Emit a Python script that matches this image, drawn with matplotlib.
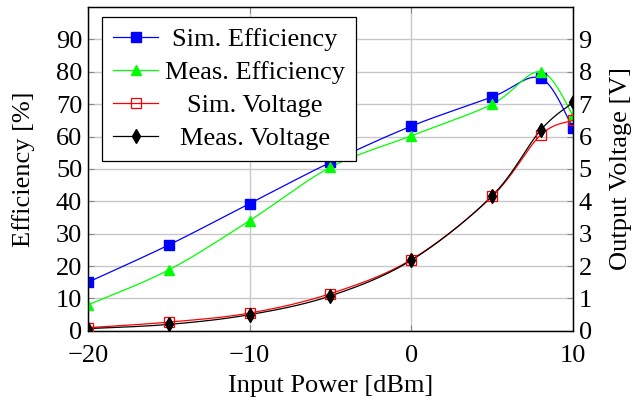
import numpy as np
import matplotlib
matplotlib.use("Agg")
import matplotlib.pyplot as plt
from matplotlib.lines import Line2D

plt.rcParams['font.family'] = ['Liberation Serif', 'DejaVu Serif']
plt.rcParams['mathtext.fontset'] = 'stix'

# --- data ---
input_power = [-20, -15, -10, -5, 0, 5, 8, 10]
sim_eff = [15, 26.5, 39.3, 52, 63.2, 72.2, 78, 62.6]
meas_eff = [8, 18.8, 34, 50.5, 60.2, 70, 80, 66.5]
sim_volt = [0.1, 0.27, 0.55, 1.15, 2.2, 4.15, 6.05, 6.5]
meas_volt = [0.07, 0.2, 0.5, 1.08, 2.18, 4.17, 6.2, 7.05]

x_ticks = [-20, -10, 0, 10]
eff_ticks = list(range(0, 100, 10))
volt_ticks = list(range(0, 10))


def smooth(xs, ys, n=30):
    # catmull-rom style bezier through the points (like pgfplots "smooth")
    p = np.column_stack([xs, ys]).astype(float)
    ext = np.vstack([p[0], p, p[-1]])
    out = []
    t = np.linspace(0, 1, n)[:, None]
    for i in range(len(p) - 1):
        p0, p1, p2, p3 = ext[i], ext[i + 1], ext[i + 2], ext[i + 3]
        c1 = p1 + (p2 - p0) / 6
        c2 = p2 - (p3 - p1) / 6
        seg = ((1 - t) ** 3) * p1 + 3 * ((1 - t) ** 2) * t * c1 + 3 * (1 - t) * t ** 2 * c2 + t ** 3 * p2
        out.append(seg)
    pts = np.vstack(out)
    return pts[:, 0], pts[:, 1]


fig = plt.figure(figsize=(6.36, 4.07), dpi=100)
ax = fig.add_axes([0.138, 0.187, 0.763, 0.796])
ax2 = ax.twinx()

fs = 19
lw = 0.9

series_left = [
    (sim_eff, (0, 0, 1), dict(marker='s', markersize=7, markerfacecolor=(0, 0, 1), markeredgecolor=(0, 0, 1))),
    (meas_eff, (0, 1, 0), dict(marker='^', markersize=7.5, markerfacecolor=(0, 1, 0), markeredgecolor=(0, 1, 0))),
]
series_right = [
    (sim_volt, (1, 0, 0), dict(marker='s', markersize=7, markerfacecolor='none', markeredgecolor=(1, 0, 0), markeredgewidth=0.9)),
    (meas_volt, 'black', dict(marker='d', markersize=7, markerfacecolor='black', markeredgecolor='black')),
]

for ys, col, mk in series_left:
    sx, sy = smooth(input_power, ys)
    ax.plot(sx, sy, color=col, lw=lw, zorder=3)
    ax.plot(input_power, ys, ls='none', zorder=4, **mk)

for ys, col, mk in series_right:
    sx, sy = smooth(input_power, ys)
    ax2.plot(sx, sy, color=col, lw=lw, zorder=3)
    ax2.plot(input_power, ys, ls='none', zorder=4, **mk)

ax.set_xlim(-20, 10)
ax.set_ylim(0, 100)
ax2.set_ylim(0, 10)

ax.set_xticks(x_ticks)
ax.set_xticklabels(['\u221220', '\u221210', '0', '10'])
ax.set_yticks(eff_ticks)
ax2.set_yticks(volt_ticks)

ax.grid(True, color='#c8c8c8', lw=1.0)
ax.set_axisbelow(True)

for a in (ax, ax2):
    a.tick_params(direction='in', length=4, color='#888888', labelsize=fs, pad=4)
    for s in a.spines.values():
        s.set_linewidth(0.9)
ax.tick_params(axis='x', top=True, pad=10)

ax.set_xlabel('Input Power [dBm]', fontsize=fs, labelpad=6)
ax.set_ylabel('Efficiency [%]', fontsize=fs, labelpad=15)
ax2.set_ylabel('Output Voltage [V]', fontsize=fs, labelpad=13)

labels = ['Sim. Efficiency', 'Meas. Efficiency', 'Sim. Voltage', 'Meas. Voltage']
handles = []
for ys, col, mk in series_left + series_right:
    handles.append(Line2D([], [], color=col, lw=lw, **mk))

leg = ax2.legend(handles, labels, loc='upper left', bbox_to_anchor=(0.03, 0.97),
                 borderaxespad=0, fontsize=fs, frameon=True, fancybox=False,
                 edgecolor='black', framealpha=1, handlelength=1.7,
                 handletextpad=0.25, labelspacing=0.36, borderpad=0.42)
leg.get_frame().set_linewidth(0.9)

# centre the legend texts in their column, as in the original
fig.canvas.draw()
widths = [t.get_window_extent().width for t in leg.get_texts()]
wmax = max(widths)
for t, w in zip(leg.get_texts(), widths):
    t.set_x((wmax - w) / 2)

fig.savefig('out.png', dpi=100)
